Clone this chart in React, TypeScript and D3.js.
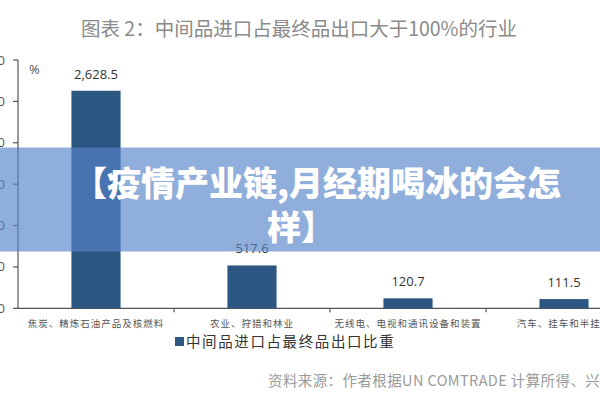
import React from "react";
import * as d3 from "d3";

const categories = [
  "焦炭、精炼石油产品及核燃料",
  "农业、狩猎和林业",
  "无线电、电视和通讯设备和装置",
  "汽车、挂车和半挂车",
];
const values = [2628.5, 517.6, 120.7, 111.5];
const valueLabels = ["2,628.5", "517.6", "120.7", "111.5"];
const yTicks = [0, 500, 1000, 1500, 2000, 2500, 3000];
const title = "图表 2：中间品进口占最终品出口大于100%的行业";
const legendLabel = "中间品进口占最终品出口比重";
const sourceText = "资料来源：作者根据UN COMTRADE 计算所得、兴业研究";
const bannerLines = ["【疫情产业链,月经期喝冰的会怎", "样】"];

const W = 600;
const H = 400;
const axisX = 18;
const axisY = 308.3;
const topY = 60;

export default function App() {
  const y = d3.scaleLinear().domain([0, 3000]).range([axisY, topY]);
  const x = d3.scaleBand<string>().domain(categories).range([axisX, axisX + 156 * 4]).padding(0);
  const bw = x.bandwidth();
  const barW = bw * 0.315;
  const cjk = "'Noto Sans CJK SC', 'Noto Sans', sans-serif";
  const barColor = "#2B5782";

  return (
    <svg
      width={W}
      height={H}
      style={{ position: "absolute", left: 0, top: 0, background: "#fff" }}
      fontFamily={cjk}
    >
      <rect x={0} y={0} width={W} height={H} fill="#fff" />
      <text x={299} y={36} textAnchor="middle" fontSize={19.5} fill="#8a8a8a">
        {title}
      </text>

      {/* y axis */}
      <line x1={axisX} x2={axisX} y1={topY} y2={axisY} stroke="#555" strokeWidth={1.2} />
      {yTicks.map((t) => (
        <g key={t}>
          <line x1={axisX - 5} x2={axisX} y1={y(t)} y2={y(t)} stroke="#555" strokeWidth={1.2} />
          <text x={5} y={y(t) + 4.5} textAnchor="end" fontSize={13} fill="#555" fontFamily="'Open Sans', sans-serif">
            {d3.format(",")(t)}
          </text>
        </g>
      ))}
      <text x={29} y={74} fontSize={13} fill="#555" fontFamily="'Open Sans', sans-serif">%</text>

      {/* x axis */}
      <line x1={axisX} x2={W} y1={axisY} y2={axisY} stroke="#555" strokeWidth={1.2} />
      {categories.map((c) => (
        <line
          key={"t" + c}
          x1={(x(c) as number) + bw}
          x2={(x(c) as number) + bw}
          y1={axisY}
          y2={axisY + 4}
          stroke="#555"
          strokeWidth={1.2}
        />
      ))}

      {/* bars */}
      {categories.map((c, i) => {
        const cx = (x(c) as number) + bw / 2;
        return (
          <g key={c}>
            <rect x={cx - barW / 2} y={y(values[i])} width={barW} height={axisY - y(values[i])} fill={barColor} />
            <text
              x={cx}
              y={y(values[i]) - 12}
              textAnchor="middle"
              fontSize={13}
              fill="#333"
              fontFamily="'Open Sans', sans-serif"
            >
              {valueLabels[i]}
            </text>
            <text x={cx} y={327} textAnchor="middle" fontSize={9.5} fill="#555" letterSpacing={1}>
              {c}
            </text>
          </g>
        );
      })}

      {/* legend */}
      <rect x={175} y={337} width={9} height={9} fill={barColor} />
      <text x={186} y={347} fontSize={14.5} fill="#333" letterSpacing={1.6}>
        {legendLabel}
      </text>

      {/* source */}
      <text x={268} y={386} fontSize={14.5} fill="#9a9a9a" letterSpacing={0.4}>
        {sourceText}
      </text>

      {/* banner overlay */}
      <rect x={0} y={147.5} width={W} height={104} fill="rgb(87,132,200)" fillOpacity={0.66} />
      <text x={317} y={196} textAnchor="middle" fontSize={34} fontWeight={900} fill="#fff">
        {bannerLines[0]}
      </text>
      <text x={301} y={240} textAnchor="middle" fontSize={34} fontWeight={900} fill="#fff">
        {bannerLines[1]}
      </text>
    </svg>
  );
}
